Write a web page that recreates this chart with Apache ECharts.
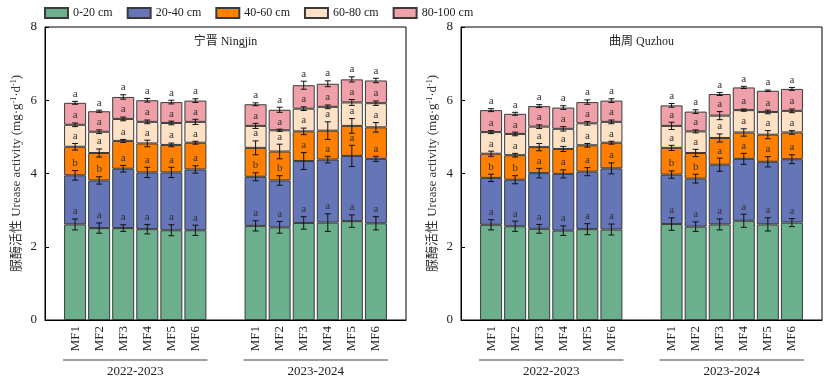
<!DOCTYPE html>
<html><head><meta charset="utf-8">
<script src="https://cdn.jsdelivr.net/npm/echarts@6/dist/echarts.min.js"></script>
<style>html,body{margin:0;padding:0;background:#fff}#c{width:831px;height:386px}</style>
</head><body><div id="c"></div>
<script>
const layers = ['0-20 cm', '20-40 cm', '40-60 cm', '60-80 cm', '80-100 cm'];
const treatments = ['MF1', 'MF2', 'MF3', 'MF4', 'MF5', 'MF6'];
const years = ['2022-2023', '2023-2024'];
const sites = ['宁晋 Ningjin', '曲周 Quzhou'];
const yTicks = [0, 2, 4, 6, 8];

// 宁晋 Ningjin: layer values (6 treatments × 2 years)
const nj_0_20   = [2.61, 2.51, 2.51, 2.48, 2.45, 2.45, 2.57, 2.53, 2.65, 2.66, 2.70, 2.64];
const nj_20_40  = [1.34, 1.30, 1.62, 1.55, 1.58, 1.66, 1.34, 1.28, 1.69, 1.72, 1.78, 1.76];
const nj_40_60  = [0.78, 0.75, 0.76, 0.79, 0.75, 0.73, 0.79, 0.79, 0.81, 0.79, 0.82, 0.86];
const nj_60_80  = [0.60, 0.58, 0.60, 0.59, 0.60, 0.57, 0.60, 0.58, 0.62, 0.65, 0.64, 0.66];
const nj_80_100 = [0.60, 0.56, 0.60, 0.59, 0.57, 0.58, 0.59, 0.56, 0.64, 0.63, 0.63, 0.62];
const nj_e_0_20   = [0.15, 0.14, 0.09, 0.13, 0.15, 0.14, 0.14, 0.16, 0.17, 0.24, 0.17, 0.18];
const nj_e_20_40  = [0.13, 0.10, 0.09, 0.14, 0.14, 0.10, 0.11, 0.13, 0.23, 0.09, 0.29, 0.07];
const nj_e_40_60  = [0.09, 0.11, 0.04, 0.09, 0.05, 0.04, 0.19, 0.20, 0.09, 0.24, 0.20, 0.13];
const nj_e_60_80  = [0.05, 0.05, 0.05, 0.05, 0.05, 0.07, 0.07, 0.03, 0.05, 0.05, 0.08, 0.06];
const nj_e_80_100 = [0.04, 0.03, 0.06, 0.05, 0.05, 0.05, 0.04, 0.07, 0.11, 0.08, 0.07, 0.06];

// 曲周 Quzhou
const qz_0_20   = [2.60, 2.56, 2.49, 2.44, 2.48, 2.47, 2.62, 2.55, 2.61, 2.71, 2.61, 2.66];
const qz_20_40  = [1.28, 1.27, 1.52, 1.55, 1.57, 1.67, 1.35, 1.31, 1.63, 1.69, 1.71, 1.73];
const qz_40_60  = [0.66, 0.67, 0.71, 0.68, 0.72, 0.70, 0.73, 0.70, 0.73, 0.72, 0.74, 0.73];
const qz_60_80  = [0.59, 0.58, 0.56, 0.55, 0.60, 0.57, 0.60, 0.59, 0.61, 0.61, 0.62, 0.59];
const qz_80_100 = [0.60, 0.55, 0.56, 0.58, 0.58, 0.58, 0.56, 0.54, 0.59, 0.62, 0.58, 0.60];
const qz_e_0_20   = [0.14, 0.14, 0.12, 0.13, 0.15, 0.15, 0.17, 0.13, 0.15, 0.18, 0.18, 0.11];
const qz_e_20_40  = [0.10, 0.11, 0.13, 0.11, 0.11, 0.15, 0.10, 0.12, 0.18, 0.15, 0.14, 0.12];
const qz_e_40_60  = [0.07, 0.05, 0.10, 0.07, 0.05, 0.04, 0.07, 0.10, 0.11, 0.10, 0.11, 0.05];
const qz_e_60_80  = [0.04, 0.05, 0.05, 0.06, 0.05, 0.05, 0.10, 0.04, 0.11, 0.03, 0.05, 0.05];
const qz_e_80_100 = [0.04, 0.04, 0.04, 0.05, 0.06, 0.05, 0.05, 0.05, 0.04, 0.03, 0.02, 0.04];

// significance letters (same for both sites)
const sig_0_20   = ['a','a','a','a','a','a','a','a','a','a','a','a'];
const sig_20_40  = ['b','b','a','a','a','a','b','b','a','a','a','a'];
const sig_40_60  = ['a','a','a','a','a','a','a','a','a','a','a','a'];
const sig_60_80  = ['a','a','a','a','a','a','a','a','a','a','a','a'];
const sig_80_100 = ['a','a','a','a','a','a','a','a','a','a','a','a'];

const colors = ['#6BAF8C', '#6475B8', '#FF8000', '#FFE2C5', '#F0A0A8'];
const FONT = '"Liberation Serif", "Times New Roman", "Noto Sans CJK SC", serif';

const panelSegs = [[nj_0_20, nj_20_40, nj_40_60, nj_60_80, nj_80_100], [qz_0_20, qz_20_40, qz_40_60, qz_60_80, qz_80_100]];
const panelErrs = [[nj_e_0_20, nj_e_20_40, nj_e_40_60, nj_e_60_80, nj_e_80_100], [qz_e_0_20, qz_e_20_40, qz_e_40_60, qz_e_60_80, qz_e_80_100]];
const sigs = [sig_0_20, sig_20_40, sig_40_60, sig_60_80, sig_80_100];

// category slots: 30 half-width slots per panel, bars on every other slot, gap between years
const NSLOT = 30;
const slotIdx = [];
years.forEach((y, yi) => treatments.forEach((t, ti) => slotIdx.push(2 + 2 * ti + yi * 15)));
const cats = new Array(NSLOT).fill('');
slotIdx.forEach((s, i) => { cats[s] = treatments[i % treatments.length]; });
function toSlots(arr) {
  const out = new Array(NSLOT).fill('-');
  slotIdx.forEach((s, i) => { out[s] = arr[i]; });
  return out;
}

const grids = [
  { left: 45, top: 27, width: 361, height: 293 },
  { left: 461, top: 27, width: 361, height: 293 }
];

const xAxes = [], yAxes = [], series = [];
[0, 1].forEach(p => {
  xAxes.push({
    type: 'category', gridIndex: p, data: cats,
    axisLine: { show: true, lineStyle: { color: '#000', width: 1 } },
    axisTick: { show: false }, splitLine: { show: false },
    axisLabel: { rotate: 90, margin: 6, interval: 0, fontFamily: FONT, fontSize: 13, color: '#222' }
  });
  yAxes.push({
    type: 'value', gridIndex: p, min: 0, max: 8, interval: 2,
    axisLine: { show: true, lineStyle: { color: '#000', width: 1 } },
    axisTick: { show: true, inside: true, length: 4, lineStyle: { color: '#000' } },
    splitLine: { show: false },
    axisLabel: { fontFamily: FONT, fontSize: 13, color: '#222', margin: 8 },
    name: '脲酶活性 Urease activity (mg·g{s|-1}·d{s|-1})',
    nameLocation: 'middle', nameRotate: 90, nameGap: 22,
    nameTextStyle: {
      fontFamily: FONT, fontSize: 13, color: '#333',
      rich: { s: { fontFamily: FONT, fontSize: 8, verticalAlign: 'top', color: '#333' } }
    }
  });
  const segs = panelSegs[p], errs = panelErrs[p];
  const cum = new Array(slotIdx.length).fill(0);
  layers.forEach((name, l) => {
    series.push({
      type: 'bar', name: name, stack: 'site' + p, xAxisIndex: p, yAxisIndex: p,
      barWidth: 22,
      itemStyle: { color: colors[l], borderColor: '#3a3a3a', borderWidth: 1 },
      data: toSlots(segs[l])
    });
    const tops = segs[l].map((v, i) => { cum[i] += v; return cum[i]; });
    const sig = sigs[l];
    series.push({
      type: 'custom', xAxisIndex: p, yAxisIndex: p, z: 10, silent: true,
      encode: { x: 0, y: 1 },
      data: tops.map((t, i) => [slotIdx[i], t, errs[l][i]]),
      renderItem: function (params, api) {
        const x = api.value(0), t = api.value(1), e = api.value(2);
        const a = api.coord([x, t + e]), b = api.coord([x, t - e]);
        const hw = 3;
        const st = { stroke: '#111', lineWidth: 1 };
        return {
          type: 'group', children: [
            { type: 'line', shape: { x1: a[0], y1: a[1], x2: b[0], y2: b[1] }, style: st },
            { type: 'line', shape: { x1: a[0] - hw, y1: a[1], x2: a[0] + hw, y2: a[1] }, style: st },
            { type: 'line', shape: { x1: b[0] - hw, y1: b[1], x2: b[0] + hw, y2: b[1] }, style: st },
            { type: 'text', x: a[0], y: a[1] - 2,
              style: { text: sig[params.dataIndex], align: 'center', verticalAlign: 'bottom',
                       font: '11px ' + FONT, fill: '#333' } }
          ]
        };
      }
    });
  });
});

const chart = echarts.init(document.getElementById('c'), null, { renderer: 'canvas' });
chart.setOption({
  animation: false,
  backgroundColor: '#fff',
  legend: {
    data: layers, left: 39, top: 2, itemWidth: 23, itemHeight: 10, itemGap: 14, icon: 'rect',
    textStyle: { fontFamily: FONT, fontSize: 12, color: '#222' }
  },
  grid: grids.map(g => Object.assign({ show: true, borderColor: '#000', borderWidth: 1, backgroundColor: 'transparent' }, g)),
  xAxis: xAxes,
  yAxis: yAxes,
  series: series
});

// year brackets and site titles, positioned through the axes
const graphics = [];
[0, 1].forEach(p => {
  const c1 = chart.convertToPixel({ gridIndex: p }, [14, 8]);
  const c2 = chart.convertToPixel({ gridIndex: p }, [15, 8]);
  graphics.push({ type: 'text', x: (c1[0] + c2[0]) / 2, y: c1[1] + 15,
    style: { text: sites[p], align: 'center', verticalAlign: 'middle', font: '12px ' + FONT, fill: '#222' } });
  years.forEach((yr, yi) => {
    const first = slotIdx[yi * 6], last = slotIdx[yi * 6 + 5];
    const l = chart.convertToPixel({ gridIndex: p }, [first - 1, 0]);
    const r = chart.convertToPixel({ gridIndex: p }, [last + 1, 0]);
    graphics.push({ type: 'line', shape: { x1: l[0], y1: l[1] + 40, x2: r[0], y2: r[1] + 40 },
      style: { stroke: '#808080', lineWidth: 1.5 } });
    graphics.push({ type: 'text', x: (l[0] + r[0]) / 2, y: l[1] + 52,
      style: { text: yr, align: 'center', verticalAlign: 'middle', font: '13px ' + FONT, fill: '#222' } });
  });
});
chart.setOption({ graphic: graphics });
</script>
</body></html>
